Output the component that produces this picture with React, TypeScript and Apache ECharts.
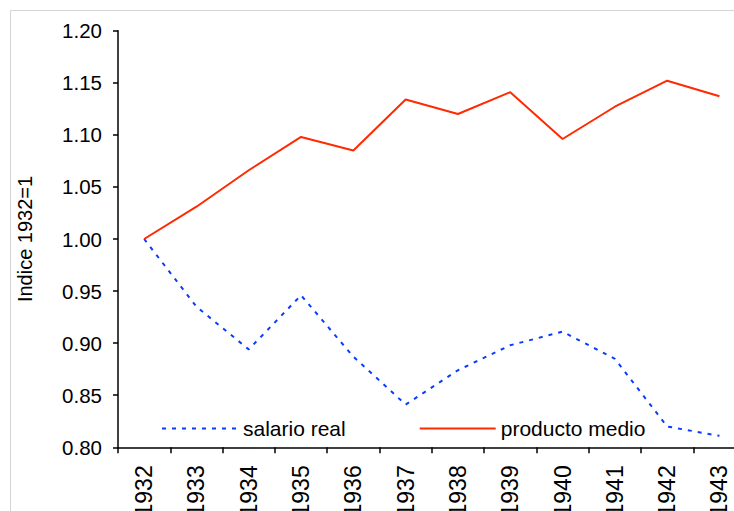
import React, { useEffect, useRef } from "react";
import * as echarts from "echarts";

const years = ["1932", "1933", "1934", "1935", "1936", "1937", "1938", "1939", "1940", "1941", "1942", "1943"];
const salarioReal = [1.0, 0.935, 0.894, 0.946, 0.887, 0.841, 0.874, 0.898, 0.911, 0.885, 0.82, 0.811];
const productoMedio = [1.0, 1.031, 1.066, 1.098, 1.085, 1.134, 1.12, 1.141, 1.096, 1.127, 1.152, 1.137];
const yTicks = { min: 0.8, max: 1.2, interval: 0.05 };

const FONT = "'Liberation Sans', Arial, sans-serif";

export default function App() {
  const ref = useRef<HTMLDivElement>(null);
  useEffect(() => {
    if (!ref.current) return;
    const chart = echarts.init(ref.current, undefined, { renderer: "svg" });
    chart.setOption({
      animation: false,
      backgroundColor: "#ffffff",
      textStyle: { fontFamily: FONT },
      graphic: [
        {
          type: "rect",
          shape: { x: 10.5, y: 10.5, width: 800, height: 600 },
          style: { fill: "none", stroke: "#d4d4d4", lineWidth: 1 },
          silent: true,
          z: -1,
        },
      ],
      grid: {
        left: 118,
        top: 30.7,
        right: -11.6,
        bottom: 63.7,
        containLabel: false,
        outerBoundsMode: "none",
      },
      legend: {
        left: 161,
        top: 418,
        padding: 0,
        itemWidth: 76,
        itemHeight: 14,
        itemGap: 73,
        itemStyle: { opacity: 0 },
        textStyle: { fontSize: 21, color: "#000", fontFamily: FONT },
        data: ["salario real", "producto medio"],
      },
      xAxis: {
        type: "category",
        data: years,
        boundaryGap: true,
        axisLine: { lineStyle: { color: "#000", width: 1.5 } },
        axisTick: { show: true, length: 6, inside: false, alignWithLabel: false, lineStyle: { color: "#000", width: 1.5 } },
        axisLabel: { rotate: 90, margin: 18, fontSize: 23, color: "#000", fontFamily: FONT, interval: 0 },
        splitLine: { show: false },
      },
      yAxis: {
        type: "value",
        min: yTicks.min,
        max: yTicks.max,
        interval: yTicks.interval,
        name: "Indice 1932=1",
        nameLocation: "middle",
        nameGap: 83,
        nameTextStyle: { fontSize: 20, color: "#000", fontFamily: FONT },
        axisLine: { show: true, lineStyle: { color: "#000", width: 1.5 } },
        axisTick: { show: true, length: 5, lineStyle: { color: "#000", width: 1.5 } },
        axisLabel: { margin: 16, fontSize: 20.5, color: "#000", fontFamily: FONT, formatter: (v: number) => v.toFixed(2) },
        splitLine: { show: false },
      },
      series: [
        {
          name: "salario real",
          type: "line",
          data: salarioReal,
          symbol: "none",
          lineStyle: { color: "#0a3cff", width: 2, type: [4, 6] },
          itemStyle: { color: "#0a3cff" },
        },
        {
          name: "producto medio",
          type: "line",
          data: productoMedio,
          symbol: "none",
          lineStyle: { color: "#ff2a00", width: 2, type: "solid" },
          itemStyle: { color: "#ff2a00" },
        },
      ],
    });
    return () => chart.dispose();
  }, []);
  return (
    <div
      ref={ref}
      style={{ position: "fixed", left: 0, top: 0, width: 734, height: 511, overflow: "hidden" }}
    />
  );
}
